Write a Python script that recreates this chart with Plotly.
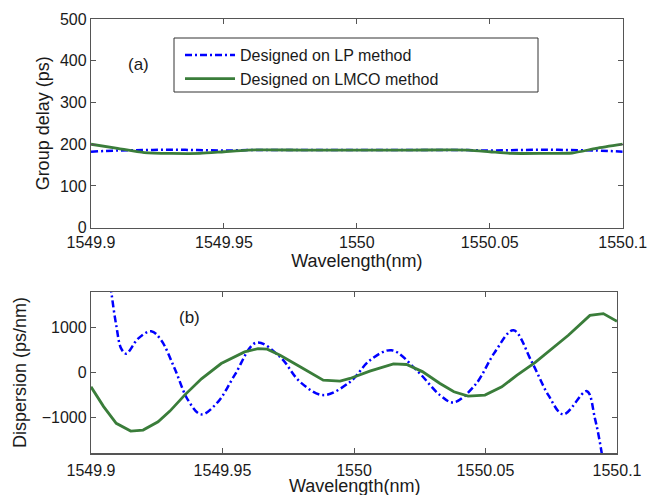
import plotly.graph_objects as go

# ---------- data ----------
# (a) group delay (ps)
gd_lp_wl = [1549.900, 1549.910, 1549.920, 1549.930, 1549.940, 1549.950, 1549.960,
            1549.970, 1549.980, 1549.990, 1550.000, 1550.010, 1550.020, 1550.030,
            1550.040, 1550.050, 1550.060, 1550.070, 1550.080, 1550.090, 1550.100]
gd_lp = [182, 185, 186, 187, 186, 185, 186, 186, 186, 186, 186,
         186, 186, 186, 186, 185, 186, 187, 186, 185, 182]

gd_lmco_wl = [1549.900, 1549.910, 1549.920, 1549.930, 1549.941, 1549.950, 1549.959,
              1549.980, 1550.000, 1550.020, 1550.042, 1550.050, 1550.058, 1550.070,
              1550.081, 1550.090, 1550.100]
gd_lmco = [200, 190, 180, 178, 178, 182, 186, 186, 186, 186, 186, 182, 178, 178,
           179, 190, 200]

# (b) dispersion (ps/nm)
dp_lp_wl = [1549.9060, 1549.9077, 1549.9096, 1549.9115, 1549.9134, 1549.9179,
            1549.9229, 1549.9267, 1549.9318, 1549.9369, 1549.9419, 1549.9483,
            1549.9546, 1549.9629, 1549.9719, 1549.9795, 1549.9883, 1549.9985,
            1550.0061, 1550.0143, 1550.0238, 1550.0327, 1550.0378, 1550.0460,
            1550.0536, 1550.0606, 1550.0676, 1550.0739, 1550.0796, 1550.0885,
            1550.0916, 1550.0942, 1550.0960]
dp_lp = [2600, 1800, 1050, 530, 420, 755, 920, 718, 89, -615, -933, -653,
         -60, 667, 347, -209, -504, -209, 273, 496, 51, -504, -667, -282,
         458, 940, 236, -504, -933, -416, -1022, -1800, -2600]

dp_lmco_wl = [1549.9000, 1549.9048, 1549.9096, 1549.9151, 1549.9198, 1549.9255,
              1549.9300, 1549.9356, 1549.9420, 1549.9495, 1549.9584, 1549.9635,
              1549.9670, 1549.9719, 1549.9800, 1549.9883, 1549.9947, 1549.9985,
              1550.0060, 1550.0150, 1550.0200, 1550.0260, 1550.0327, 1550.0380,
              1550.0434, 1550.0498, 1550.0562, 1550.0620, 1550.0688, 1550.0750,
              1550.0815, 1550.0897, 1550.0948, 1550.1000]
dp_lmco = [-320, -760, -1133, -1304, -1282, -1097, -860, -504, -140, 200, 458,
           533, 520, 384, 110, -171, -193, -133, 30, 191, 178, 20, -244, -430,
           -527, -504, -320, -60, 222, 520, 829, 1273, 1311, 1140]

x_ticks = [1549.9, 1549.95, 1550.0, 1550.05, 1550.1]
x_ticktext = ["1549.9", "1549.95", "1550", "1550.05", "1550.1"]
gd_ticks = [0, 100, 200, 300, 400, 500]
dp_ticks = [-1000, 0, 1000]

name_lp = "Designed on LP method"
name_lmco = "Designed on LMCO method"
x_title = "Wavelength(nm)"

# ---------- style ----------
W, H = 649, 495
BLUE = "#0000ff"
GREEN = "#3a7d3a"
AX = "#555555"
TXT = "#1a1a1a"
FONT = "Liberation Sans, Arial, sans-serif"
DASHDOT = "7px,3px,2px,3px"

def px_x(p):
    return p / W

def px_y(p):
    return 1 - p / H

fig = go.Figure()

fig.add_trace(go.Scatter(x=gd_lp_wl, y=gd_lp, mode="lines", name=name_lp,
                         line=dict(color=BLUE, width=2.5, dash=DASHDOT, shape="spline"),
                         xaxis="x", yaxis="y"))
fig.add_trace(go.Scatter(x=gd_lmco_wl, y=gd_lmco, mode="lines", name=name_lmco,
                         line=dict(color=GREEN, width=2.8, shape="spline", smoothing=0.6),
                         xaxis="x", yaxis="y"))
fig.add_trace(go.Scatter(x=dp_lp_wl, y=dp_lp, mode="lines", name=name_lp,
                         line=dict(color=BLUE, width=2.5, dash=DASHDOT, shape="spline"),
                         xaxis="x2", yaxis="y2", showlegend=False))
fig.add_trace(go.Scatter(x=dp_lmco_wl, y=dp_lmco, mode="lines", name=name_lmco,
                         line=dict(color=GREEN, width=2.8),
                         xaxis="x2", yaxis="y2", showlegend=False))

axis_common = dict(showline=True, linecolor=AX, linewidth=1.2, mirror="ticks",
                   ticks="inside", ticklen=5, tickcolor=AX, tickwidth=1,
                   showgrid=False, zeroline=False, automargin=False,
                   tickfont=dict(family=FONT, size=16, color=TXT))

title_font = dict(family=FONT, size=18, color=TXT)

fig.update_layout(
    width=W, height=H,
    margin=dict(l=0, r=0, t=0, b=0, pad=0),
    paper_bgcolor="white", plot_bgcolor="white",
    font=dict(family=FONT, color=TXT),
    showlegend=True,
    legend=dict(x=px_x(180), y=px_y(38), xanchor="left", yanchor="top",
                bgcolor="rgba(0,0,0,0)", borderwidth=0,
                font=dict(family=FONT, size=16, color=TXT),
                itemwidth=50, tracegroupgap=0),
    xaxis=dict(domain=[px_x(91), px_x(622.7)], anchor="y",
               range=[1549.9, 1550.1], tickvals=x_ticks, ticktext=x_ticktext,
               title=dict(text=x_title, standoff=1, font=title_font),
               **axis_common),
    yaxis=dict(domain=[px_y(227.7), px_y(19)], anchor="x",
               range=[0, 500], tickvals=gd_ticks,
               title=dict(text="Group delay (ps)", standoff=5, font=title_font),
               **axis_common),
    xaxis2=dict(domain=[px_x(91), px_x(617)], anchor="y2",
                range=[1549.9, 1550.1], tickvals=x_ticks, ticktext=x_ticktext,
                ticklabelstandoff=2,
                **axis_common),
    yaxis2=dict(domain=[px_y(453.3), px_y(291.7)], anchor="x2",
                range=[-1800, 1800], tickvals=dp_ticks,
                title=dict(text="Dispersion (ps/nm)", standoff=10, font=title_font),
                **axis_common),
    shapes=[
        dict(type="rect", xref="paper", yref="paper",
             x0=px_x(174), x1=px_x(538), y0=px_y(92), y1=px_y(38),
             line=dict(color="#333333", width=1), fillcolor="white", layer="below"),
    ],
    annotations=[
        dict(text="(a)", x=1549.9177, y=392, xref="x", yref="y", showarrow=False,
             font=dict(family=FONT, size=17, color=TXT)),
        dict(text="(b)", x=1549.9375, y=1218, xref="x2", yref="y2", showarrow=False,
             font=dict(family=FONT, size=17, color=TXT)),
        dict(text=x_title, x=1550.0, xref="x2", y=px_y(485.5), yref="paper",
             yanchor="middle", showarrow=False, font=title_font),
    ],
)

fig.write_html("out.html",
               config={"displayModeBar": False, "staticPlot": True},
               post_script="document.body.style.margin='0';"
                           "document.body.style.overflow='hidden';")
